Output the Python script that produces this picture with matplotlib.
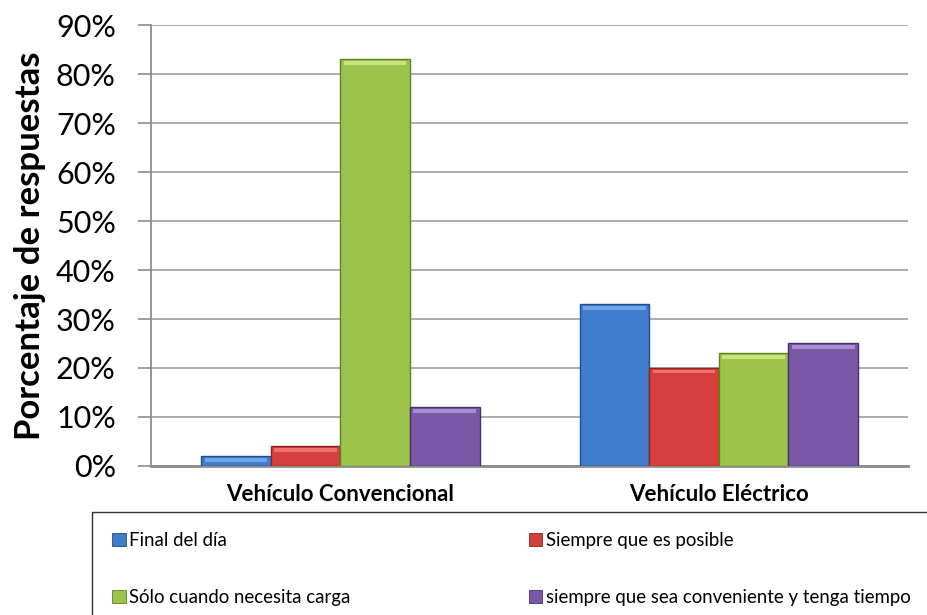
import numpy as np
import matplotlib.pyplot as plt
from matplotlib.patches import Patch

plt.rcParams['font.family'] = ['Lato', 'DejaVu Sans']

categories = ['Vehículo Convencional', 'Vehículo Eléctrico']
series_names = ['Final del día', 'Siempre que es posible',
                'Sólo cuando necesita carga',
                'siempre que sea conveniente y tenga tiempo']
values = {
    'Final del día': [2, 33],
    'Siempre que es posible': [4, 20],
    'Sólo cuando necesita carga': [83, 23],
    'siempre que sea conveniente y tenga tiempo': [12, 25],
}
colors = ['#3f7dcc', '#d6403c', '#9cc44a', '#7a58a6']
edges = ['#1f4f8f', '#8f2220', '#5f8223', '#44306b']
highlights = ['#7fb0ee', '#f27f7b', '#d2ee8a', '#b89ae0']
yticks = [0, 10, 20, 30, 40, 50, 60, 70, 80, 90]

fig = plt.figure(figsize=(9.27, 6.15), dpi=100)
ax = fig.add_axes([0.163, 0.2423, 0.8165, 0.717])

x = np.arange(len(categories))
width = 0.184
offsets = (np.arange(4) - 1.5) * width

for i, name in enumerate(series_names):
    v = np.array(values[name], dtype=float)
    ax.bar(x + offsets[i], v, width, color=colors[i], edgecolor=edges[i],
           linewidth=1.0, zorder=3)
    # bevel highlight near the top of each bar
    strip = np.minimum(v * 0.5, 0.8)
    ax.bar(x + offsets[i], strip, width * 0.9, bottom=v - strip * 1.4,
           color=highlights[i], linewidth=0, alpha=0.8, zorder=4)

ax.set_xlim(-0.5, 1.5)
ax.set_ylim(0, 90)
ax.set_yticks(yticks)
ax.set_yticklabels([f'{t}%' for t in yticks], fontsize=22)
ax.set_xticks(x)
ax.set_xticklabels(categories, fontsize=16, fontweight='bold')
ax.tick_params(axis='x', length=0, pad=13)
ax.tick_params(axis='y', direction='out', length=9.4, width=1.2,
               color='#8c8c8c', pad=16)
ax.yaxis.grid(True, color='#a6a6a6', linewidth=1.3, zorder=0)
ax.set_axisbelow(True)
for s in ['top', 'right']:
    ax.spines[s].set_visible(False)
ax.spines['left'].set_color('#8c8c8c')
ax.spines['left'].set_linewidth(1.3)
ax.spines['bottom'].set_color('#8c8c8c')
ax.spines['bottom'].set_linewidth(2)
ax.set_ylabel('Porcentaje de respuestas', fontsize=25, fontweight='bold',
              labelpad=7)

# legend is filled column by column; reorder so rows match the reference
order = [0, 2, 1, 3]
handles = [Patch(facecolor=colors[i], edgecolor=edges[i], linewidth=0.6)
           for i in order]
labels = [series_names[i] for i in order]
leg = fig.legend(handles, labels, loc='upper left',
                 bbox_to_anchor=(92 / 927, 1 - 512 / 615), ncol=2,
                 fontsize=13.4, frameon=True, fancybox=False,
                 handlelength=0.7, handleheight=0.7, handletextpad=0.2,
                 labelspacing=2.1, borderpad=1.1, borderaxespad=0,
                 columnspacing=9.6)
leg.get_frame().set_edgecolor('black')
leg.get_frame().set_linewidth(1.0)

fig.savefig('out.png', dpi=100)
